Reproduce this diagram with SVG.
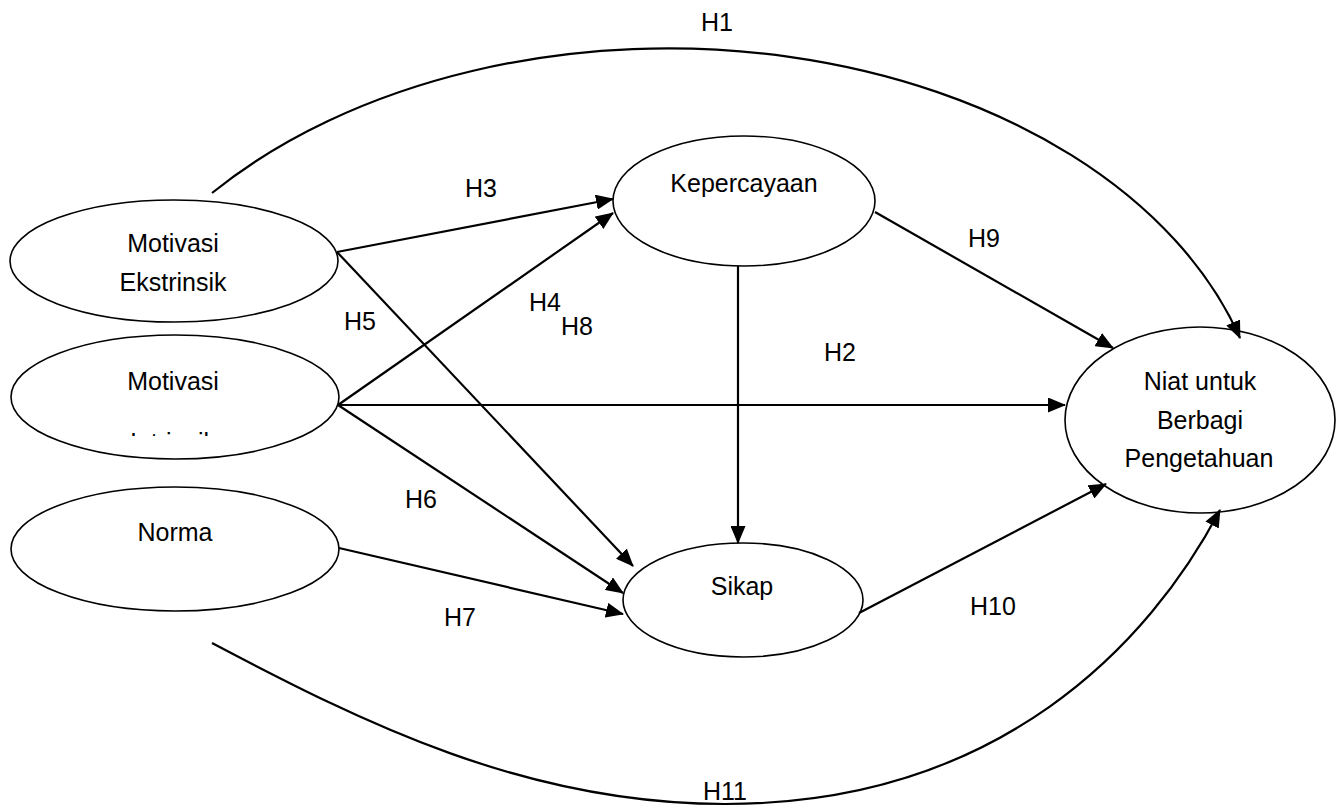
<svg xmlns="http://www.w3.org/2000/svg" width="1342" height="806" viewBox="0 0 1342 806">
<defs>
<style>
.node ellipse{fill:#fff;stroke:#000;stroke-width:1.6}
.t{font-family:"Liberation Sans",Arial,sans-serif;font-size:25px;fill:#000;text-anchor:middle}
.c{fill:none;stroke:#000;stroke-width:2.2}
</style>
<marker id="ah" markerUnits="userSpaceOnUse" markerWidth="18" markerHeight="15" viewBox="0 0 18 15" refX="17" refY="7.5" orient="auto">
<path d="M0,0 L18,7.5 L0,15 z" fill="#000"/>
</marker>
<clipPath id="cut"><rect x="100" y="432" width="160" height="4"/></clipPath>
</defs>
<rect width="1342" height="806" fill="#fff"/>
<g id="node-motivasi-ekstrinsik" class="node">
<ellipse cx="174" cy="261" rx="164" ry="61"/>
<text class="t" x="173" y="252">Motivasi</text>
<text class="t" x="173" y="291">Ekstrinsik</text>
</g>
<g id="node-motivasi-intrinsik" class="node">
<ellipse cx="175" cy="397" rx="164" ry="62"/>
<text class="t" x="173" y="390">Motivasi</text>
<text class="t" x="173" y="451" clip-path="url(#cut)">Intrinsik</text>
</g>
<g id="node-norma" class="node">
<ellipse cx="175" cy="549" rx="164" ry="62"/>
<text class="t" x="175" y="541">Norma</text>
</g>
<g id="node-kepercayaan" class="node">
<ellipse cx="744" cy="201" rx="131" ry="65"/>
<text class="t" x="744" y="192">Kepercayaan</text>
</g>
<g id="node-sikap" class="node">
<ellipse cx="743" cy="600" rx="120" ry="57"/>
<text class="t" x="742" y="595">Sikap</text>
</g>
<g id="node-niat" class="node">
<ellipse cx="1200" cy="420" rx="135" ry="93"/>
<text class="t" x="1200" y="390">Niat untuk</text>
<text class="t" x="1200" y="429">Berbagi</text>
<text class="t" x="1199" y="467">Pengetahuan</text>
</g>
<g id="connectors">
<path class="c" d="M212,193 A597,407 0 0,1 1240,338" marker-end="url(#ah)"/>
<path class="c" d="M212,643 C362,722 525,804 725,804 C1000,804 1150,643 1220,510" marker-end="url(#ah)"/>
<line class="c" x1="337" y1="252" x2="613" y2="199" marker-end="url(#ah)"/>
<line class="c" x1="337" y1="252" x2="633" y2="566" marker-end="url(#ah)"/>
<line class="c" x1="338" y1="405" x2="613" y2="213" marker-end="url(#ah)"/>
<line class="c" x1="338" y1="405" x2="1065" y2="405" marker-end="url(#ah)"/>
<line class="c" x1="338" y1="405" x2="623" y2="593" marker-end="url(#ah)"/>
<line class="c" x1="339" y1="548" x2="623" y2="614" marker-end="url(#ah)"/>
<line class="c" x1="738" y1="266" x2="738" y2="543" marker-end="url(#ah)"/>
<line class="c" x1="875" y1="212" x2="1113" y2="348" marker-end="url(#ah)"/>
<line class="c" x1="859" y1="613" x2="1106" y2="484" marker-end="url(#ah)"/>
</g>
<g id="labels">
<text class="t" x="717" y="31">H1</text>
<text class="t" x="840" y="361">H2</text>
<text class="t" x="481" y="197">H3</text>
<text class="t" x="545" y="311">H4</text>
<text class="t" x="360" y="330">H5</text>
<text class="t" x="421" y="508">H6</text>
<text class="t" x="460" y="626">H7</text>
<text class="t" x="577" y="335">H8</text>
<text class="t" x="984" y="247">H9</text>
<text class="t" x="993" y="615">H10</text>
<text class="t" x="725" y="800">H11</text>
</g>
</svg>
